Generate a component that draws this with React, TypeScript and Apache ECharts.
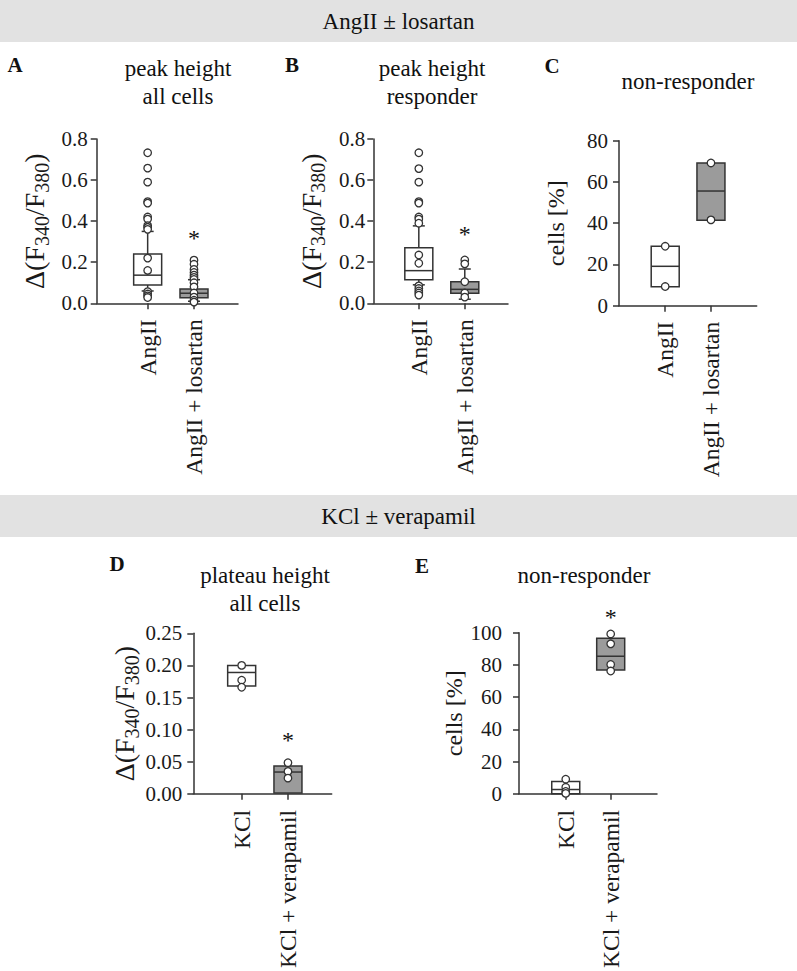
import React, { useEffect, useRef } from 'react';
import * as echarts from 'echarts';

const headerTop = 'AngII ± losartan';
const headerBottom = 'KCl ± verapamil';
const catsAng = ['AngII', 'AngII + losartan'];
const catsKCl = ['KCl', 'KCl + verapamil'];
const titles = ['peak height\nall cells', 'peak height\nresponder', 'non-responder', 'plateau height\nall cells', 'non-responder'];
const letters = ['A', 'B', 'C', 'D', 'E'];

// box rows: [category index, lower whisker, Q1, median, Q3, upper whisker]
const boxA = [[0, 0.06, 0.089, 0.137, 0.24, 0.35], [1, 0.01, 0.027, 0.049, 0.07, 0.115]];
const boxB = [[0, 0.09, 0.115, 0.159, 0.271, 0.377], [1, 0.02, 0.049, 0.068, 0.105, 0.167]];
const boxC = [[0, 9.2, 9.2, 19.1, 28.8, 28.8], [1, 41.4, 41.4, 55.6, 69.2, 69.2]];
const boxD = [[0, 0.168, 0.168, 0.189, 0.2, 0.2], [1, 0.0015, 0.0015, 0.034, 0.0434, 0.0434]];
const boxE = [[0, 0, 0, 2.7, 7.6, 7.6], [1, 76.8, 76.8, 85.4, 96.6, 96.6]];

const ptsA0 = [0.733, 0.658, 0.59, 0.495, 0.488, 0.42, 0.41, 0.378, 0.37, 0.36, 0.22, 0.16, 0.057, 0.045, 0.036, 0.028];
const ptsA1 = [0.21, 0.19, 0.165, 0.15, 0.137, 0.126, 0.116, 0.1, 0.08, 0.05, 0.03, 0.015, 0.006];
const ptsB0 = [0.733, 0.656, 0.59, 0.495, 0.488, 0.42, 0.41, 0.39, 0.235, 0.195, 0.085, 0.072, 0.06, 0.05, 0.04];
const ptsB1 = [0.211, 0.192, 0.105, 0.05, 0.03];
const ptsC0 = [28.8, 9.3];
const ptsC1 = [69.2, 41.6];
const ptsD0 = [0.2, 0.177, 0.166];
const ptsD1 = [0.0485, 0.035, 0.0245];
const ptsE0 = [9.1, 4.1, 1.5, 0.3];
const ptsE1 = [99.2, 93.1, 80.3, 76.2];

// significance stars: [category index, value]
const starA = [1, 0.334];
const starB = [1, 0.35];
const starD = [1, 0.089];
const starE = [1, 111.8];

const FONT = 'Liberation Serif';
const DARK = '#333333';
const GREY = '#9b9b9b';

const deltaName = '{n|Δ(F}{s|340}{n|/F}{s|380}{n|)}';

const panels = [
  { left: 96.7, top: 139, width: 141.3, height: 164.3, xMin: -1.1, xMax: 1.95, yMax: 0.8, yInt: 0.2, dec: 1, cats: catsAng, box: boxA, pts: [ptsA0, ptsA1], star: starA, name: deltaName, nameGap: 47, labelMargin: 9 },
  { left: 373.3, top: 139, width: 134.7, height: 164.3, xMin: -0.99, xMax: 1.94, yMax: 0.8, yInt: 0.2, dec: 1, cats: catsAng, box: boxB, pts: [ptsB0, ptsB1], star: starB, name: deltaName, nameGap: 47, labelMargin: 8 },
  { left: 619, top: 140.7, width: 137.7, height: 165, xMin: -1.01, xMax: 2.0, yMax: 80, yInt: 20, dec: 0, cats: catsAng, box: boxC, pts: [ptsC0, ptsC1], star: null, name: 'cells [%]', nameGap: 51, labelMargin: 11 },
  { left: 193.3, top: 633.3, width: 138.4, height: 163.4, xMin: -1.045, xMax: 1.945, yMax: 0.25, yInt: 0.05, dec: 2, cats: catsKCl, box: boxD, pts: [ptsD0, ptsD1], star: starD, name: deltaName, nameGap: 48, labelMargin: 11 },
  { left: 519, top: 632.7, width: 138, height: 164, xMin: -1.04, xMax: 2.03, yMax: 100, yInt: 20, dec: 0, cats: catsKCl, box: boxE, pts: [ptsE0, ptsE1], star: starE, name: 'cells [%]', nameGap: 53, labelMargin: 17 },
];

const titlePos = [
  { x: 178, y: 82 }, { x: 432, y: 82 }, { x: 688, y: 81 }, { x: 265, y: 589 }, { x: 584, y: 575 },
];
const letterPos = [
  { x: 15, y: 65 }, { x: 292, y: 65 }, { x: 552, y: 66 }, { x: 117, y: 564 }, { x: 422, y: 566 },
];

const boxRender = (params: any, api: any) => {
  const x = api.value(0);
  const c = (v: number) => api.coord([x, v]);
  const [cx, yLo] = c(api.value(1));
  const yQ1 = c(api.value(2))[1];
  const yMed = c(api.value(3))[1];
  const yQ3 = c(api.value(4))[1];
  const yHi = c(api.value(5))[1];
  const w = 28;
  const cap = 12;
  const ls = { stroke: DARK, lineWidth: 1.5 };
  const children: any[] = [];
  if (yHi < yQ3 - 0.5) {
    children.push({ type: 'line', shape: { x1: cx, y1: yQ3, x2: cx, y2: yHi }, style: ls });
    children.push({ type: 'line', shape: { x1: cx - cap / 2, y1: yHi, x2: cx + cap / 2, y2: yHi }, style: ls });
  }
  if (yLo > yQ1 + 0.5) {
    children.push({ type: 'line', shape: { x1: cx, y1: yQ1, x2: cx, y2: yLo }, style: ls });
    children.push({ type: 'line', shape: { x1: cx - cap / 2, y1: yLo, x2: cx + cap / 2, y2: yLo }, style: ls });
  }
  children.push({
    type: 'rect',
    shape: { x: cx - w / 2, y: yQ3, width: w, height: yQ1 - yQ3 },
    style: { fill: params.dataIndex === 0 ? '#ffffff' : GREY, stroke: DARK, lineWidth: 1.5 },
  });
  children.push({ type: 'line', shape: { x1: cx - w / 2, y1: yMed, x2: cx + w / 2, y2: yMed }, style: ls });
  return { type: 'group', children };
};

const starRender = (_params: any, api: any) => {
  const [x, y] = api.coord([api.value(0), api.value(1)]);
  return {
    type: 'text',
    x,
    y: y + 3,
    style: { text: '*', fontSize: 24, fontFamily: FONT, fill: '#111', align: 'center', verticalAlign: 'middle' },
  };
};

function buildOption() {
  const grid: any[] = [];
  const xAxis: any[] = [];
  const yAxis: any[] = [];
  const series: any[] = [];
  const graphic: any[] = [];

  graphic.push({ type: 'rect', shape: { x: 0, y: 0, width: 797, height: 42 }, style: { fill: '#e2e2e2' }, silent: true });
  graphic.push({ type: 'rect', shape: { x: 0, y: 495, width: 797, height: 42 }, style: { fill: '#e2e2e2' }, silent: true });
  graphic.push({ type: 'text', x: 398.5, y: 21, style: { text: headerTop, fontSize: 23, fontFamily: FONT, fill: '#111', align: 'center', verticalAlign: 'middle' } });
  graphic.push({ type: 'text', x: 398.5, y: 516, style: { text: headerBottom, fontSize: 23, fontFamily: FONT, fill: '#111', align: 'center', verticalAlign: 'middle' } });

  panels.forEach((p, i) => {
    grid.push({ left: p.left, top: p.top, width: p.width, height: p.height, containLabel: false });
    xAxis.push({
      type: 'value',
      gridIndex: i,
      min: p.xMin,
      max: p.xMax,
      axisLine: { show: true, onZero: false, lineStyle: { color: DARK, width: 1.5 } },
      axisTick: { show: true, customValues: [0, 1], length: 6, lineStyle: { color: DARK, width: 1.5 } },
      axisLabel: {
        show: true,
        customValues: [0, 1],
        rotate: 90,
        margin: 16,
        fontSize: 23.5,
        fontFamily: FONT,
        color: '#1a1a1a',
        formatter: (v: number) => p.cats[Math.round(v)] ?? '',
      },
      splitLine: { show: false },
    });
    yAxis.push({
      type: 'value',
      gridIndex: i,
      min: 0,
      max: p.yMax,
      interval: p.yInt,
      name: p.name,
      nameLocation: 'middle',
      nameRotate: 90,
      nameGap: p.nameGap,
      nameTextStyle: {
        fontSize: 24,
        fontFamily: FONT,
        color: '#1a1a1a',
        rich: {
          n: { fontSize: 28, lineHeight: 30, fontFamily: FONT, color: '#1a1a1a' },
          s: { fontSize: 20, lineHeight: 20, padding: [14, 0, 0, 0], fontFamily: FONT, color: '#1a1a1a' },
        },
      },
      axisLine: { show: true, onZero: false, lineStyle: { color: DARK, width: 1.5 } },
      axisTick: { show: true, length: 6, lineStyle: { color: DARK, width: 1.5 } },
      axisLabel: {
        margin: p.labelMargin,
        fontSize: 21,
        fontFamily: FONT,
        color: '#1a1a1a',
        formatter: (v: number) => v.toFixed(p.dec),
      },
      splitLine: { show: false },
    });
    series.push({
      type: 'custom',
      xAxisIndex: i,
      yAxisIndex: i,
      renderItem: boxRender,
      data: p.box,
      encode: { x: 0, y: [1, 2, 3, 4, 5] },
      z: 2,
    });
    series.push({
      type: 'scatter',
      xAxisIndex: i,
      yAxisIndex: i,
      data: p.pts.flatMap((arr, k) => arr.map((v) => [k, v])),
      symbol: 'circle',
      symbolSize: 7.5,
      itemStyle: { color: '#ffffff', borderColor: DARK, borderWidth: 1.3, opacity: 1 },
      z: 3,
      clip: false,
    });
    if (p.star) {
      series.push({
        type: 'custom',
        xAxisIndex: i,
        yAxisIndex: i,
        renderItem: starRender,
        data: [p.star],
        encode: { x: 0, y: 1 },
        z: 4,
        clip: false,
      });
    }
    graphic.push({
      type: 'text',
      x: titlePos[i].x,
      y: titlePos[i].y,
      style: { text: titles[i], fontSize: 23, lineHeight: 28, fontFamily: FONT, fill: '#111', align: 'center', verticalAlign: 'middle' },
    });
    graphic.push({
      type: 'text',
      x: letterPos[i].x,
      y: letterPos[i].y,
      style: { text: letters[i], fontSize: 21, fontWeight: 'bold', fontFamily: FONT, fill: '#111', align: 'center', verticalAlign: 'middle' },
    });
  });

  return {
    animation: false,
    backgroundColor: '#ffffff',
    textStyle: { fontFamily: FONT },
    grid,
    xAxis,
    yAxis,
    series,
    graphic,
  };
}

export default function App() {
  const ref = useRef<HTMLDivElement>(null);
  useEffect(() => {
    if (!ref.current) return;
    const chart = echarts.init(ref.current, null, { renderer: 'svg' });
    chart.setOption(buildOption() as any);
    return () => chart.dispose();
  }, []);
  return (
    <div
      ref={ref}
      style={{ position: 'absolute', left: 0, top: 0, width: 797, height: 971, background: '#fff' }}
    />
  );
}
